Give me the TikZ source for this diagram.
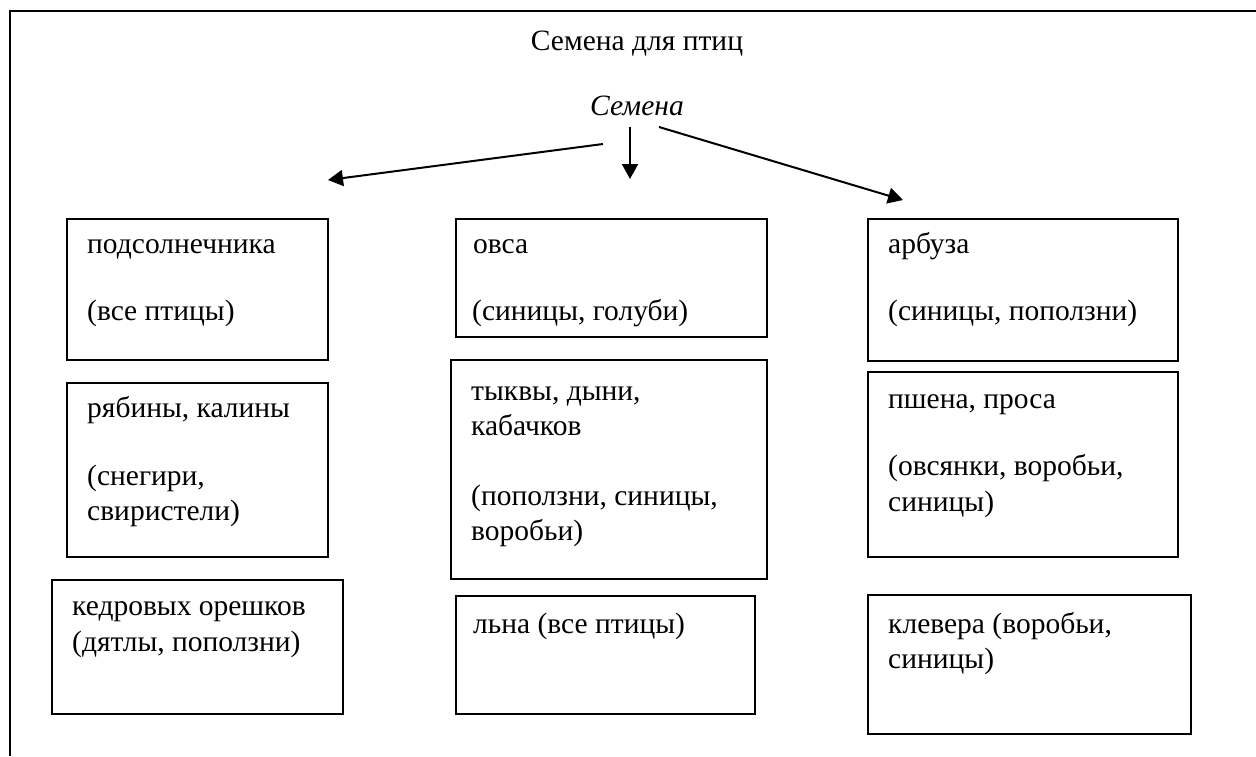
\documentclass[tikz,border=0pt]{standalone}
\usepackage{fontspec}
\setmainfont{Liberation Serif}
\usetikzlibrary{arrows.meta}
\tikzset{
  box/.style={draw=black, line width=1.6pt, inner sep=0pt, anchor=north west},
  txt/.style={anchor=base west, inner sep=0pt, font=\fontsize{29.5}{35}\selectfont},
  arr/.style={line width=2pt, -{Triangle[length=15pt,width=16pt]}},
  frame/.style={line width=1.8pt}
}
\begin{document}
\begin{tikzpicture}[x=1pt,y=-1pt]
\fill[white] (0,0) rectangle (1256,756);
\useasboundingbox (0,0) rectangle (1256,756);
% outer frame (top and left edges)
\draw[frame] (10,756) -- (10,11) -- (1256,11);
% titles
\node[anchor=base, inner sep=0pt, font=\fontsize{29.5}{35}\selectfont] (title) at (637,50) {Семена для птиц};
\node[anchor=base, inner sep=0pt, font=\fontsize{29.5}{35}\selectfont\itshape] (sem) at (637,115) {Семена};
% arrows
\coordinate (sL) at (603,144);
\coordinate (sM) at (630,127);
\coordinate (sR) at (659,127);
\coordinate (eL) at (328,180);
\coordinate (eM) at (630,179);
\coordinate (eR) at (903,200);
\draw[arr] (sL) -- (eL);
\draw[arr] (sM) -- (eM);
\draw[arr] (sR) -- (eR);
% left column
\node[box, minimum width=261pt, minimum height=141pt] (b1) at (66,218) {};
\node[box, minimum width=261pt, minimum height=174pt] (b2) at (66,382) {};
\node[box, minimum width=291pt, minimum height=134pt] (b3) at (51,579) {};
% middle column
\node[box, minimum width=311pt, minimum height=118pt] (m1) at (455,218) {};
\node[box, minimum width=316pt, minimum height=219pt] (m2) at (450,359) {};
\node[box, minimum width=299pt, minimum height=118pt] (m3) at (455,595) {};
% right column
\node[box, minimum width=310pt, minimum height=142pt] (r1) at (867,218) {};
\node[box, minimum width=310pt, minimum height=185pt] (r2) at (867,371) {};
\node[box, minimum width=323pt, minimum height=139pt] (r3) at (867,594) {};
% texts left
\node[txt] (b1a) at (87,253) {подсолнечника};
\node[txt] (b1b) at (87,320) {(все птицы)};
\node[txt] (b2a) at (87,417) {рябины, калины};
\node[txt] (b2b) at (87,485) {(снегири,};
\node[txt] (b2c) at (87,520) {свиристели)};
\node[txt] (b3a) at (72,615) {кедровых орешков};
\node[txt] (b3b) at (72,651) {(дятлы, поползни)};
% texts middle
\node[txt] (m1a) at (473,253) {овса};
\node[txt] (m1b) at (472,320) {(синицы, голуби)};
\node[txt] (m2a) at (471,400) {тыквы, дыни,};
\node[txt] (m2b) at (471,435) {кабачков};
\node[txt] (m2c) at (471,505) {(поползни, синицы,};
\node[txt] (m2d) at (471,540) {воробьи)};
\node[txt] (m3a) at (473,633) {льна (все птицы)};
% texts right
\node[txt] (r1a) at (888,253) {арбуза};
\node[txt] (r1b) at (888,320) {(синицы, поползни)};
\node[txt] (r2a) at (888,408) {пшена, проса};
\node[txt] (r2b) at (888,475) {(овсянки, воробьи,};
\node[txt] (r2c) at (888,511) {синицы)};
\node[txt] (r3a) at (888,633) {клевера (воробьи,};
\node[txt] (r3b) at (888,668) {синицы)};
\end{tikzpicture}
\end{document}
